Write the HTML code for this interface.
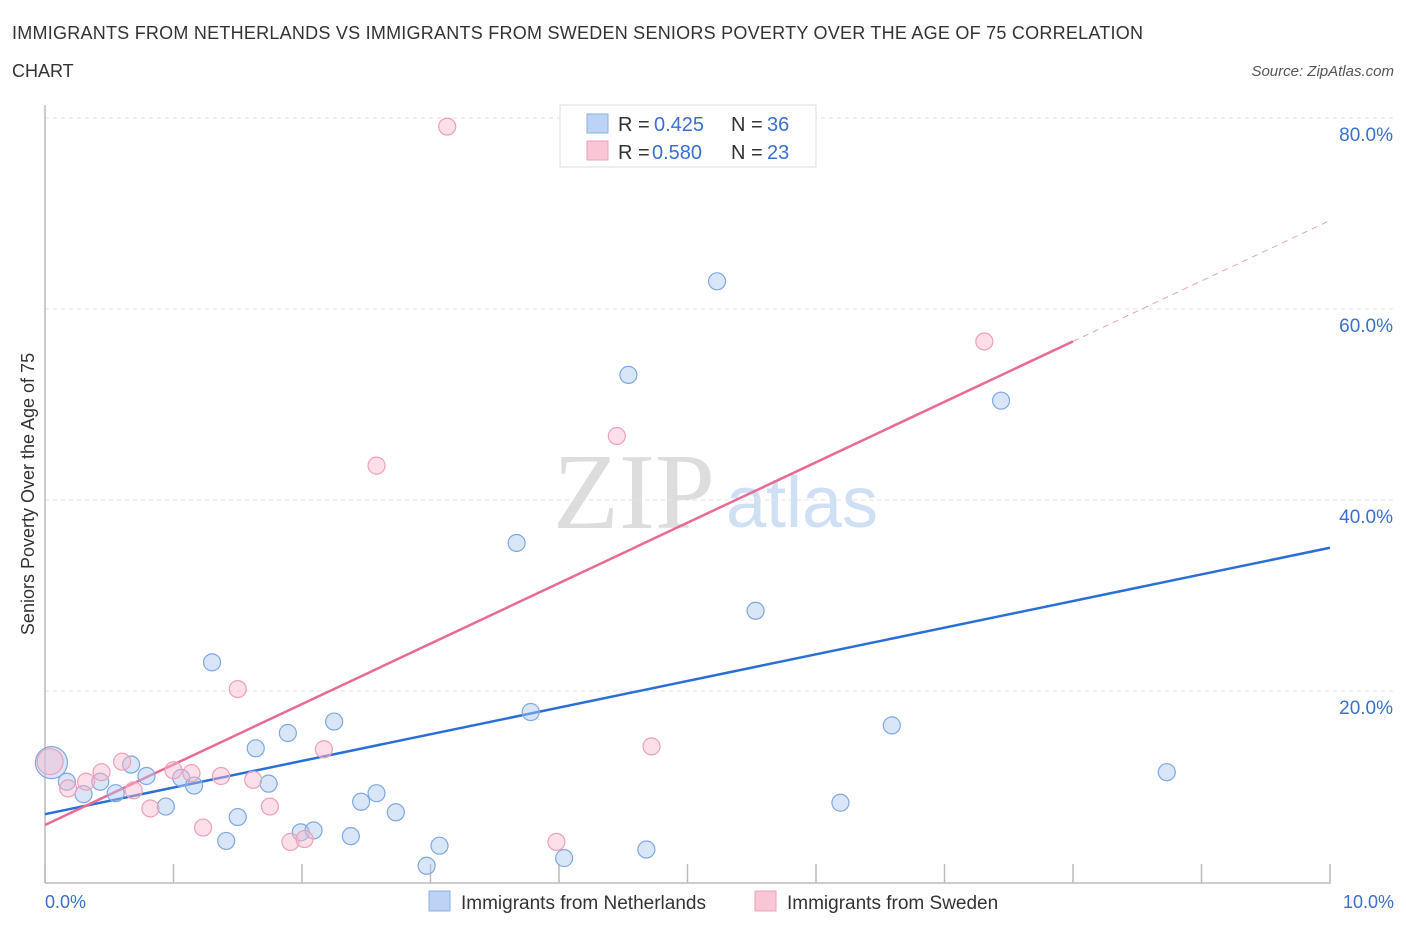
<!DOCTYPE html>
<html><head><meta charset="utf-8">
<style>
body{margin:0;background:#fff;font-family:"Liberation Sans",sans-serif;}
svg{display:block}
</style></head>
<body>
<svg id="chart" width="1406" height="930" xmlns="http://www.w3.org/2000/svg">
<text x="12" y="39" font-size="18" fill="#333" textLength="1131">IMMIGRANTS FROM NETHERLANDS VS IMMIGRANTS FROM SWEDEN SENIORS POVERTY OVER THE AGE OF 75 CORRELATION</text>
<text x="12" y="77" font-size="18" fill="#333">CHART</text>
<text x="1394" y="76" font-size="15" fill="#555" font-style="italic" text-anchor="end">Source: ZipAtlas.com</text>
<text x="634" y="528" font-size="108" fill="#ddd" font-family="Liberation Serif,serif" text-anchor="middle">ZIP</text>
<text x="802" y="527" font-size="72" fill="#cfe0f5" text-anchor="middle">atlas</text>
<g id="grid"></g>
<g id="axes"></g>
<g id="lines"></g>
<g id="points"></g>
<text x="34" y="494" font-size="18" fill="#333" text-anchor="middle" transform="rotate(-90 34 494)">Seniors Poverty Over the Age of 75</text>
<text x="45" y="908" font-size="18" fill="#3a6fd0">0.0%</text>
<text x="1394" y="908" font-size="18" fill="#3a6fd0" text-anchor="end">10.0%</text>
<g>
<rect x="560" y="105" width="256" height="62" fill="#fff" stroke="#ddd"/>
<rect x="587" y="114" width="21" height="19" fill="#bcd3f5" stroke="#8ab0e0"/>
<rect x="587" y="141" width="21" height="19" fill="#f9c6d6" stroke="#eea0b8"/>
<text x="618" y="131" font-size="20" fill="#333">R =</text><text x="654" y="131" font-size="20" fill="#3a6fd0">0.425</text>
<text x="731" y="131" font-size="20" fill="#333">N =</text><text x="767" y="131" font-size="20" fill="#3a6fd0">36</text>
<text x="618" y="159" font-size="20" fill="#333">R =</text><text x="652" y="159" font-size="20" fill="#3a6fd0">0.580</text>
<text x="731" y="159" font-size="20" fill="#333">N =</text><text x="767" y="159" font-size="20" fill="#3a6fd0">23</text>
</g>
<g>
<rect x="429" y="891" width="21" height="20" fill="#bcd3f5" stroke="#8ab0e0"/>
<text x="461" y="909" font-size="19" fill="#333">Immigrants from Netherlands</text>
<rect x="755" y="891" width="21" height="20" fill="#f9c6d6" stroke="#eea0b8"/>
<text x="787" y="909" font-size="19" fill="#333">Immigrants from Sweden</text>
</g>
</svg>
<script>
const yTicks=[20,40,60,80];
const yTickLabels=["20.0%","40.0%","60.0%","80.0%"];
const xTicks=[0,1,2,3,4,5,6,7,8,9,10];
const nlX=[0.05,0.17,0.30,0.43,0.55,0.67,0.79,0.94,1.06,1.16,1.30,1.41,1.50,1.64,1.74,1.89,1.99,2.09,2.25,2.38,2.46,2.58,2.73,2.97,3.07,3.67,3.78,4.04,4.54,4.68,5.23,5.53,6.19,6.59,7.44,8.73];
const nlY=[12.5,10.5,9.2,10.5,9.3,12.3,11.1,7.9,10.9,10.1,23.0,4.3,6.8,14.0,10.3,15.6,5.2,5.4,16.8,4.8,8.4,9.3,7.3,1.7,3.8,35.5,17.8,2.5,53.1,3.4,62.9,28.4,8.3,16.4,50.4,11.5];
const swX=[0.04,0.18,0.32,0.44,0.60,0.69,0.82,1.00,1.14,1.23,1.37,1.50,1.62,1.75,1.91,2.02,2.17,2.58,3.13,3.98,4.45,4.72,7.31];
const swY=[12.6,9.8,10.5,11.5,12.6,9.6,7.7,11.7,11.4,5.7,11.1,20.2,10.7,7.9,4.2,4.5,13.9,43.6,79.1,4.2,46.7,14.2,56.6];
const nlLine=[7.1,35.0];
const swLine=[5.97,6.33,8.0];
const NS="http://www.w3.org/2000/svg";
const X=v=>45+v*128.5, Y=v=>882-v*9.55;
function mk(tag,attrs,parent){const e=document.createElementNS(NS,tag);for(const k in attrs)e.setAttribute(k,attrs[k]);document.getElementById(parent).appendChild(e);return e;}
let e=mk('line',{x1:45,x2:1394,y1:118,y2:118,stroke:'#e2e2e2','stroke-dasharray':'4 4'},'grid');


yTicks.forEach((t,i)=>{
 const g=mk('line',{x1:45,x2:1394,y1:Y(t),y2:Y(t),stroke:'#e2e2e2','stroke-dasharray':'4 4'},'grid');
 
 
 const l=mk('text',{x:1393,y:Y(t)+23,'font-size':19,fill:'#3a6fd0','text-anchor':'end'},'grid');
 l.textContent=yTickLabels[i];
 
 
});
e=mk('line',{x1:45,x2:45,y1:105,y2:883,stroke:'#bbb','stroke-width':1.5},'axes');


e=mk('line',{x1:45,x2:1331,y1:883,y2:883,stroke:'#bbb','stroke-width':1.5},'axes');


xTicks.forEach(t=>{
 const k=mk('line',{x1:X(t),x2:X(t),y1:864,y2:883,stroke:'#bbb','stroke-width':1.5},'axes');
 
 
});
e=mk('line',{x1:X(0),y1:Y(nlLine[0]),x2:X(10),y2:Y(nlLine[1]),stroke:'#2a6fd6','stroke-width':2.5},'lines');


e=mk('line',{x1:X(0),y1:Y(swLine[0]),x2:X(swLine[2]),y2:Y(swLine[0]+swLine[1]*swLine[2]),stroke:'#e86a96','stroke-width':2.5},'lines');


e=mk('line',{x1:X(swLine[2]),y1:Y(swLine[0]+swLine[1]*swLine[2]),x2:X(10),y2:Y(swLine[0]+swLine[1]*10),stroke:'#eea0b8','stroke-width':1,'stroke-dasharray':'6 5'},'lines');


nlX.forEach((x,i)=>{
 const c=mk('circle',{cx:X(x),cy:Y(nlY[i]),r:i===0?16:8.5,fill:'rgba(170,200,240,0.45)',stroke:'#7fa8e0','stroke-width':1.2},'points');
 
 
});
swX.forEach((x,i)=>{
 const c=mk('circle',{cx:X(x),cy:Y(swY[i]),r:i===0?13:8.5,fill:'rgba(248,185,205,0.45)',stroke:'#eea0b8','stroke-width':1.2},'points');
 
 
});
</script>
</body></html>
